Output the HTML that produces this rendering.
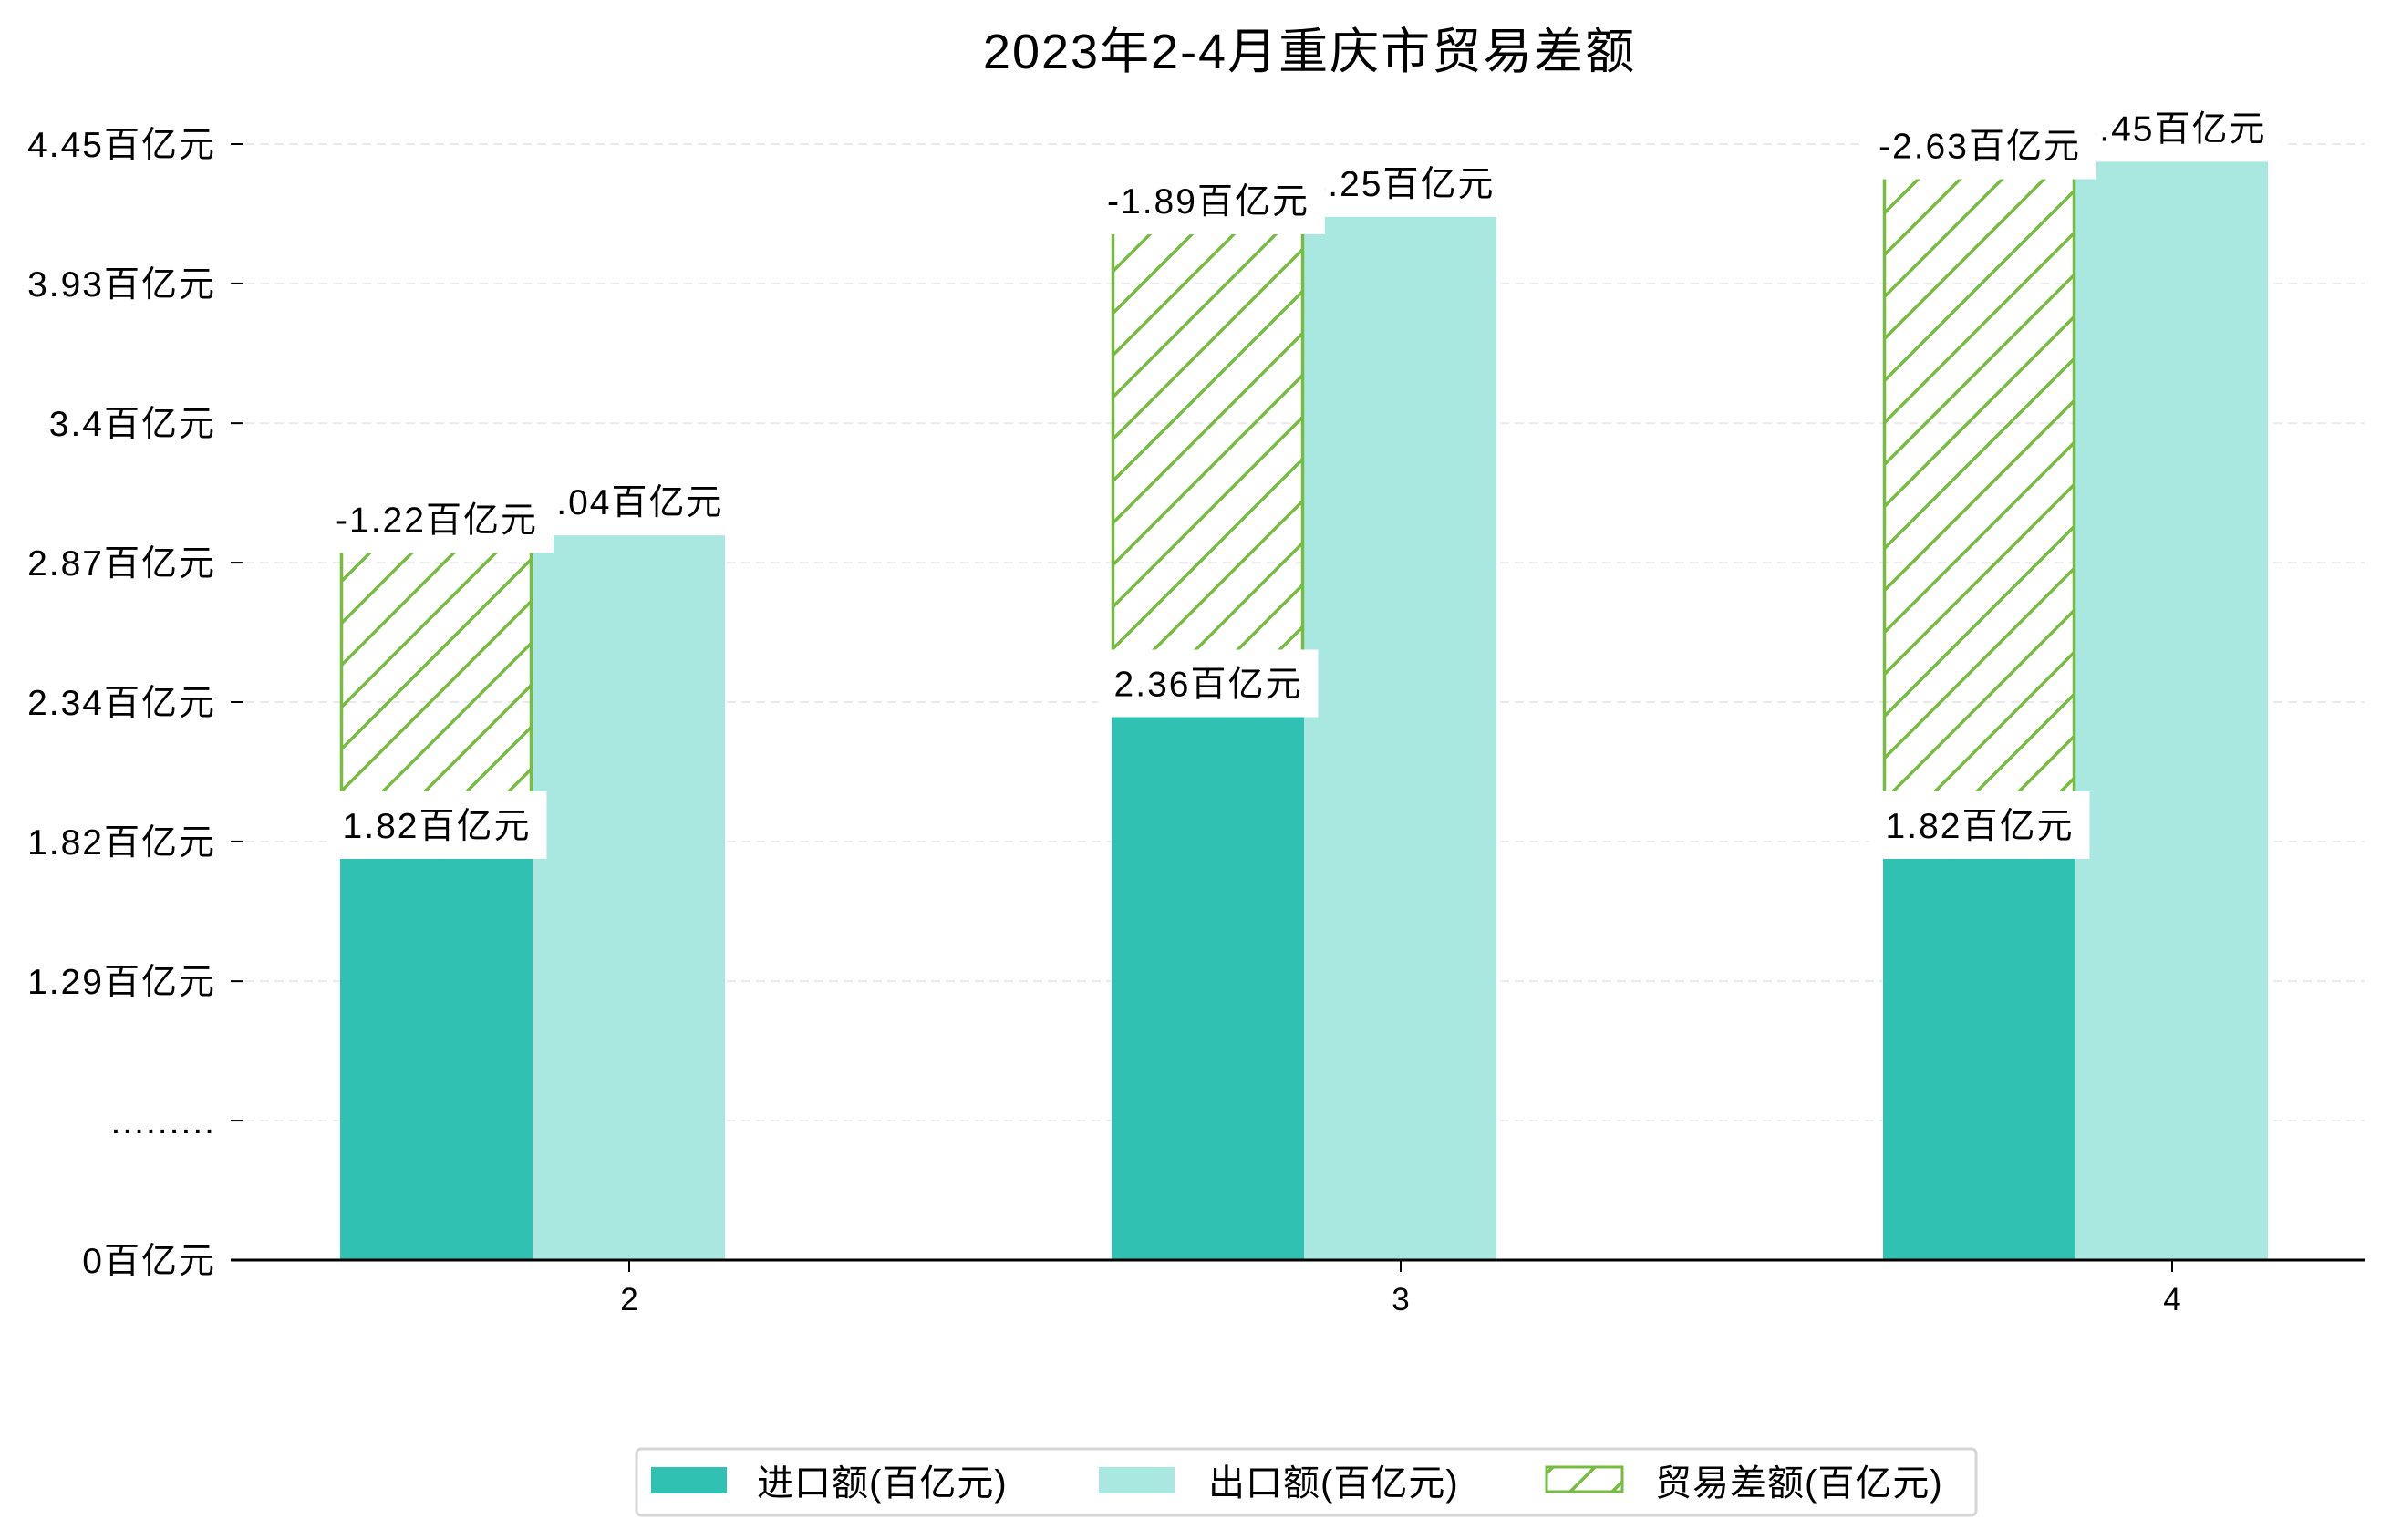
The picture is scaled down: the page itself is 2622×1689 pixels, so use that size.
<!DOCTYPE html>
<html><head><meta charset="utf-8"><style>
html,body{margin:0;padding:0;background:#fff;}
svg{display:block;font-family:"Liberation Sans","Noto Sans CJK SC",sans-serif;}
</style></head><body>
<svg id="chart" width="2622" height="1689" viewBox="0 0 2622 1689" xmlns="http://www.w3.org/2000/svg">
<defs>
<pattern id="hatch" patternUnits="userSpaceOnUse" width="46" height="46">
<line x1="-4" y1="50" x2="50" y2="-4" stroke="#77BB41" stroke-width="3.5"/>
<line x1="-50" y1="50" x2="4" y2="-4" stroke="#77BB41" stroke-width="3.5"/>
<line x1="42" y1="50" x2="96" y2="-4" stroke="#77BB41" stroke-width="3.5"/>
</pattern>
</defs>
<text x="1436" y="75" font-size="54" letter-spacing="2" text-anchor="middle" fill="#000">2023年2-4月重庆市贸易差额</text>
<g id="grid"></g><g id="bars"></g><g id="labels"></g><g id="axes"></g>
<g>
<rect x="698" y="1589" width="1469" height="73" rx="5" fill="#fff" stroke="#d6d6d6" stroke-width="3"/>
<rect x="714" y="1609" width="83" height="29" fill="#31C1B3"/>
<text x="830" y="1640" font-size="40" letter-spacing="1">进口额(百亿元)</text>
<rect x="1205" y="1609" width="83" height="29" fill="#A9E7E1"/>
<text x="1325" y="1640" font-size="40" letter-spacing="1">出口额(百亿元)</text>
<rect x="1696" y="1609" width="83" height="27" fill="url(#hatch)" stroke="#77BB41" stroke-width="3"/>
<text x="1815" y="1640" font-size="40" letter-spacing="1">贸易差额(百亿元)</text>
</g>
</svg>
<script>
const categories = ["2","3","4"];
const importValues = [1.60, 2.165, 1.60];
const exportValues = [2.89, 4.16, 4.38];
const balanceValues = [1.22, 1.925, 2.71];
const importLabels = ["1.82百亿元","2.36百亿元","1.82百亿元"];
const exportLabels = ["3.04百亿元","4.25百亿元","4.45百亿元"];
const balanceLabels = ["-1.22百亿元","-1.89百亿元","-2.63百亿元"];
const tickValues = [0, 0.556, 1.112, 1.669, 2.225, 2.781, 3.337, 3.894, 4.45];
const tickLabels = ["0百亿元",".........","1.29百亿元","1.82百亿元","2.34百亿元","2.87百亿元","3.4百亿元","3.93百亿元","4.45百亿元"];

const NS="http://www.w3.org/2000/svg";
const y0=1382, yTop=158, yMax=4.45;
function yScale(v){return y0-(v/yMax)*(y0-yTop);}
function xCenter(i){return 690+i*846;}
const barW=211;
function mk(tag,attrs,parent){const e=document.createElementNS(NS,tag);for(const k in attrs)e.setAttribute(k,attrs[k]);parent.appendChild(e);return e;}
const grid=document.getElementById('grid'),bars=document.getElementById('bars'),labels=document.getElementById('labels'),axes=document.getElementById('axes');

tickValues.forEach((v,i)=>{
  const y=yScale(v);
  if(i>0){const g=mk('line',{x1:253,x2:2593,y1:y,y2:y,stroke:'#ebebeb','stroke-width':2,'stroke-dasharray':'10,6'},grid);
  
  }
  const t=mk('line',{x1:253,x2:267,y1:y,y2:y,stroke:'#000','stroke-width':2},axes);
  
  
  const l=mk('text',{x:237,y:y+14,'font-size':39,'letter-spacing':2,'text-anchor':'end',fill:'#000'},axes);
  l.textContent=tickLabels[i];
  
  
});
const ax=mk('line',{x1:253,x2:2593,y1:y0,y2:y0,stroke:'#000','stroke-width':3},axes);



function label(text,cx,cy,name){
  const g=mk('g',{},labels);
  
  
  const r=mk('rect',{fill:'#fff'},g);
  const t=mk('text',{x:cx,y:cy+14,'font-size':39,'letter-spacing':2,'text-anchor':'middle',fill:'#000'},g);
  t.textContent=text;
  const b=t.getBBox();
  r.setAttribute('x',b.x-17);r.setAttribute('width',b.width+34);
  r.setAttribute('y',cy-37);r.setAttribute('height',74);
}

categories.forEach((c,i)=>{
  const cx=xCenter(i);
  const xi=cx-317, xe=cx-106;
  const yi=yScale(importValues[i]), ye=yScale(exportValues[i]);
  const yb=yScale(importValues[i]+balanceValues[i]);
  const bi=mk('rect',{x:xi,y:yi,width:barW,height:y0-yi,fill:'#31C1B3'},bars);
  
  
  const be=mk('rect',{x:xe,y:ye,width:barW,height:y0-ye,fill:'#A9E7E1'},bars);
  
  
  const bb=mk('rect',{x:xi,y:yb,width:barW,height:yi-yb,fill:'url(#hatch)'},bars);
  
  
  const el=mk('line',{x1:xi+1.5,x2:xi+1.5,y1:yb,y2:yi,stroke:'#77BB41','stroke-width':3.5},bars);
  
  
  const er=mk('line',{x1:xi+barW-1.5,x2:xi+barW-1.5,y1:yb,y2:yi,stroke:'#77BB41','stroke-width':3.5},bars);
  
  
  const tk=mk('line',{x1:cx,x2:cx,y1:y0,y2:y0+13,stroke:'#000','stroke-width':2},axes);
  
  
  const tl=mk('text',{x:cx,y:y0+55,'font-size':35,'text-anchor':'middle',fill:'#000'},axes);
  tl.textContent=c;
  
  
});
categories.forEach((c,i)=>{
  const cx=xCenter(i);
  label(exportLabels[i],cx,yScale(exportValues[i])-37,'export-value-label');
  label(balanceLabels[i],cx-211,yScale(importValues[i]+balanceValues[i])-37,'balance-value-label');
  label(importLabels[i],cx-211,yScale(importValues[i])-37,'import-value-label');
});
</script>
</body></html>
